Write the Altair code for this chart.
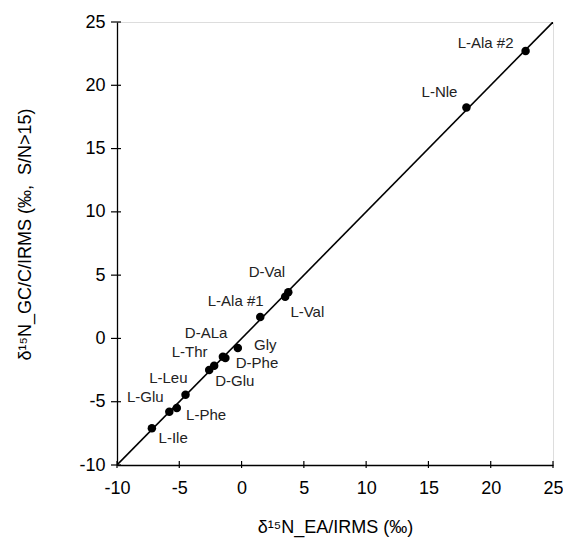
import altair as alt
import pandas as pd

names = ["L-Ile", "L-Glu", "L-Phe", "L-Leu", "D-Glu", "L-Thr", "D-ALa", "D-Phe",
         "Gly", "L-Ala #1", "L-Val", "D-Val", "L-Nle", "L-Ala #2"]
ea = [-7.2, -5.8, -5.2, -4.5, -2.6, -2.2, -1.5, -1.3, -0.3, 1.5, 3.5, 3.75, 18.05, 22.8]
gc = [-7.1, -5.8, -5.5, -4.45, -2.5, -2.15, -1.45, -1.55, -0.76, 1.7, 3.3, 3.65, 18.25, 22.7]
label_x = [-5.49, -7.73, -2.85, -5.88, -0.55, -4.17, -2.85, 1.24, 1.9, -0.47, 5.28, 2.03, 15.89, 19.59]
label_y = [-7.88, -4.61, -6.04, -3.13, -3.4, -1.05, 0.43, -1.98, -0.5, 2.99, 2.06, 5.23, 19.48, 23.31]
ticks = [-10, -5, 0, 5, 10, 15, 20, 25]
line_ends = [-10, 25]

pts = pd.DataFrame({"name": names, "ea": ea, "gc": gc})
labs = pd.DataFrame({"name": names, "lx": label_x, "ly": label_y})
ln = pd.DataFrame({"v": line_ends})
tk = pd.DataFrame({"t": ticks})

W = 436
H = 443
FONT = "Liberation Sans"
xs = alt.Scale(domain=[-10, 25], nice=False, zero=False)
ys = alt.Scale(domain=[-10, 25], nice=False, zero=False)

common = dict(values=ticks, tickSize=0, grid=False,
              labelFontSize=18, labelFont=FONT, labelColor="black",
              labelFlush=False, labelExpr="toString(datum.value)",
              titleFont=FONT, titleFontSize=18, titleFontWeight="normal",
              titleColor="black", domainColor="black", domainWidth=1.3)
xaxis = alt.Axis(title="δ¹⁵N_EA/IRMS (‰)", labelPadding=14, titlePadding=21, **common)
yaxis = alt.Axis(title="δ¹⁵N_GC/C/IRMS (‰,\u00a0 S/N>15)", labelPadding=12,
                 titlePadding=44, titleY=212, **common)

line = alt.Chart(ln).mark_line(color="black", strokeWidth=1.6, clip=True).encode(
    x=alt.X("v:Q", scale=xs, axis=xaxis),
    y=alt.Y("v:Q", scale=ys, axis=yaxis),
)
points = alt.Chart(pts).mark_circle(color="black", size=72, opacity=1).encode(
    x=alt.X("ea:Q", scale=xs),
    y=alt.Y("gc:Q", scale=ys),
)
labels = alt.Chart(labs).mark_text(font=FONT, fontSize=15, color="#222222").encode(
    x=alt.X("lx:Q", scale=xs),
    y=alt.Y("ly:Q", scale=ys),
    text="name:N",
)
xticks = alt.Chart(tk).mark_rule(color="black", strokeWidth=1.2).encode(
    x=alt.X("t:Q", scale=xs),
    x2=alt.X2("t"),
    y=alt.value(H + 3),
    y2=alt.value(H - 4),
)
yticks = alt.Chart(tk).mark_rule(color="black", strokeWidth=1.2).encode(
    y=alt.Y("t:Q", scale=ys),
    y2=alt.Y2("t"),
    x=alt.value(-6),
    x2=alt.value(4),
)

chart = alt.layer(line, xticks, yticks, points, labels).properties(
    width=W, height=H,
    autosize=alt.AutoSizeParams(type="none"),
    padding={"left": 109, "top": 14, "right": 10, "bottom": 73},
).configure_view(stroke="black", strokeWidth=1.3).configure(background="white")

chart.save("out.html", embed_options={"renderer": "svg", "actions": False})
